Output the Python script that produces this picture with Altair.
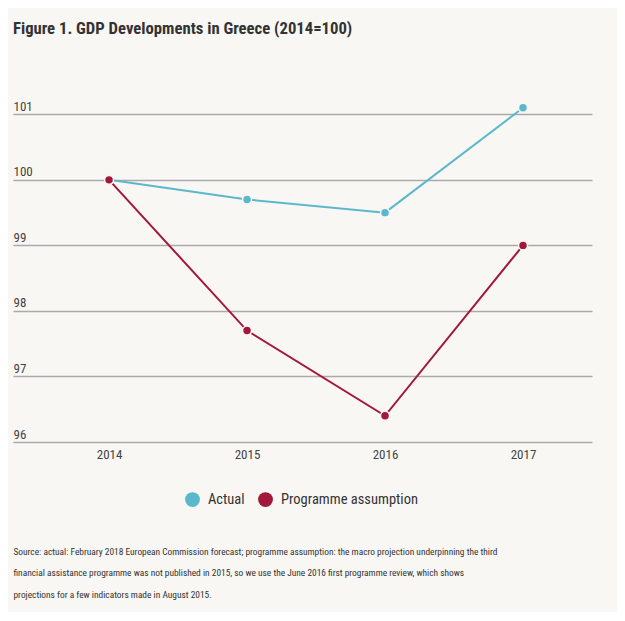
import altair as alt
import pandas as pd

years = [2014, 2015, 2016, 2017]
actual = [100.0, 99.7, 99.5, 101.1]
programme = [100.0, 97.7, 96.4, 99.0]
series_names = ["Actual", "Programme assumption"]
series_colors = ["#5bb8cc", "#a3173b"]
y_ticks = [96, 97, 98, 99, 100, 101]
title_text = "Figure 1. GDP Developments in Greece (2014=100)"
source_lines = [
    "Source: actual: February 2018 European Commission forecast; programme assumption: the macro projection underpinning the third",
    "financial assistance programme was not published in 2015, so we use the June 2016 first programme review, which shows",
    "projections for a few indicators made in August 2015.",
]

rows = []
for name, vals in zip(series_names, [actual, programme]):
    for y, v in zip(years, vals):
        rows.append({"year": y, "value": v, "series": name})
df = pd.DataFrame(rows)

FONT = "Noto Sans Condensed, Roboto Condensed, Roboto"
BG = "#f8f7f3"

x = alt.X(
    "year:Q",
    scale=alt.Scale(domain=[2013.304, 2017.5], nice=False, zero=False),
    axis=alt.Axis(
        values=years, format="d", grid=False, domain=False, ticks=False, tickSize=0,
        labelPadding=6, labelFontSize=13, labelColor="#444", labelFont=FONT,
        title=source_lines, titleFont=FONT, titleFontSize=9.4, titleFontWeight="normal",
        titleColor="#333", titleAlign="left", titleAnchor="start", titleX=0, titleY=105,
        titleBaseline="top", titleLineHeight=21.5,
    ),
)
y = alt.Y(
    "value:Q",
    scale=alt.Scale(domain=[96, 101.6], nice=False, zero=False),
    axis=alt.Axis(
        values=y_ticks, title=None, domain=False, ticks=False, tickSize=0,
        labelAlign="left", labelPadding=0, labelBaseline="alphabetic", labelOffset=-4,
        labelFontSize=13, labelColor="#444", labelFont=FONT,
        grid=True, gridColor="#aaaaaa", gridWidth=1.3,
    ),
)
color_scale = alt.Scale(domain=series_names, range=series_colors)

base = alt.Chart(df)
lines = base.mark_line(strokeWidth=2).encode(
    x=x, y=y,
    stroke=alt.Stroke("series:N", scale=color_scale, legend=None),
    order=alt.Order("year:Q"),
)
points = base.mark_circle(size=80, opacity=1, stroke=BG, strokeWidth=1.5).encode(
    x=x, y=y,
    color=alt.Color(
        "series:N", scale=color_scale,
        legend=alt.Legend(
            title=None, orient="none", legendX=172, legendY=417, direction="horizontal",
            symbolType="circle", symbolSize=220, symbolStrokeWidth=0, symbolOpacity=1,
            labelFont=FONT, labelFontSize=14.5, labelColor="#333", columnPadding=13,
            labelOffset=8,
        ),
    ),
)

chart = (
    alt.layer(lines, points)
    .resolve_scale(color="independent", stroke="independent")
    .properties(
        width=579, height=367,
        autosize=alt.AutoSizeParams(type="none"),
        padding={"left": 5, "top": 67, "right": 25, "bottom": 170},
        background=BG,
        title=alt.TitleParams(
            title_text, anchor="start", frame="group", font=FONT, fontSize=16.7,
            fontWeight="bold", color="#333", offset=24, baseline="alphabetic",
        ),
    )
    .configure_view(strokeWidth=0)
)

chart.save("out.html", embed_options={"renderer": "svg", "actions": False})
